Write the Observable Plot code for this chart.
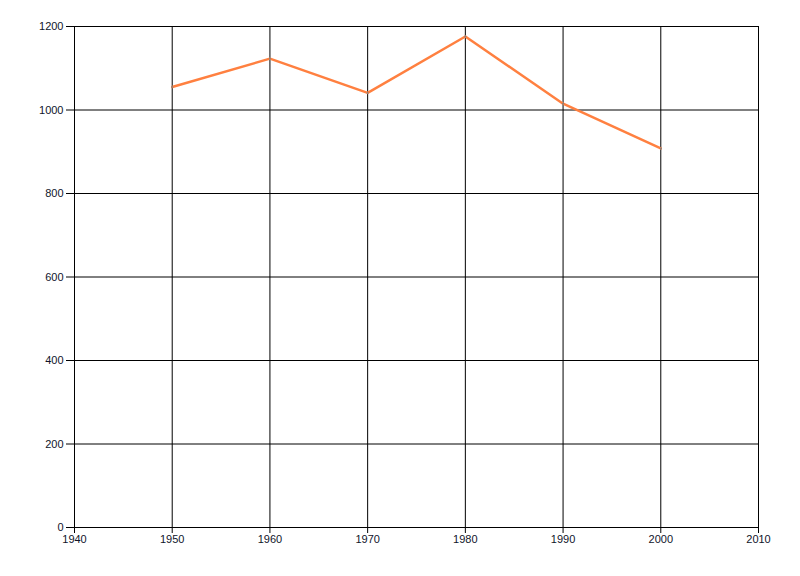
<!DOCTYPE html>
<html>
<head>
<meta charset="utf-8">
<script src="https://cdn.jsdelivr.net/npm/d3@7"></script>
<script src="https://cdn.jsdelivr.net/npm/@observablehq/plot@0.6"></script>
<style>
  html, body { margin: 0; padding: 0; background: #fff; }
</style>
</head>
<body>
<div id="chart"></div>
<script>
const years = [1950, 1960, 1970, 1980, 1990, 2000];
const values = [1055, 1123, 1041, 1176, 1015, 908];
const xTicks = [1940, 1950, 1960, 1970, 1980, 1990, 2000, 2010];
const yTicks = [0, 200, 400, 600, 800, 1000, 1200];

const data = years.map((year, i) => ({year, value: values[i]}));

const chart = Plot.plot({
  width: 800,
  height: 576,
  marginLeft: 74,
  marginRight: 42,
  marginTop: 26,
  marginBottom: 49,
  style: {fontFamily: "'Liberation Sans', Arial, sans-serif", fontSize: "11px", color: "#10142a", background: "#fff"},
  x: {domain: [1940, 2010], label: null},
  y: {domain: [0, 1200], label: null},
  marks: [
    Plot.ruleX(xTicks, {stroke: "#000", strokeWidth: 1, strokeOpacity: 1}),
    Plot.ruleY(yTicks, {stroke: "#000", strokeWidth: 1, strokeOpacity: 1}),
    Plot.frame({stroke: "#000"}),
    Plot.axisX({ticks: xTicks, tickFormat: d => String(d), tickSize: 6, tickPadding: 2, stroke: "#000", label: null}),
    Plot.axisY({ticks: yTicks, tickFormat: d => String(d), tickSize: 8, tickPadding: 3, stroke: "#000", label: null}),
    Plot.line(data, {x: "year", y: "value", stroke: "#ff8040", strokeWidth: 2.5}),
    Plot.dot(data, {x: "year", y: "value", r: 1, fill: "#808080", stroke: null})
  ]
});
document.getElementById("chart").appendChild(chart);
</script>
</body>
</html>
